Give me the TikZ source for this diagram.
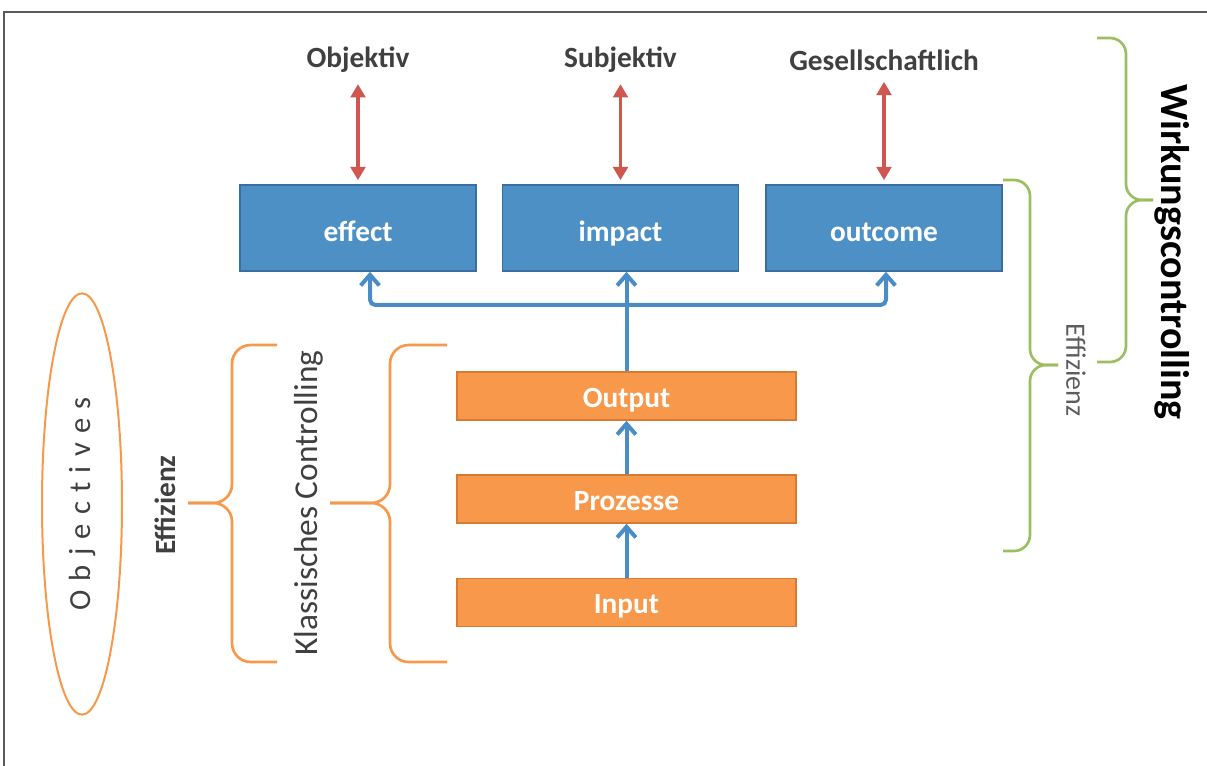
\documentclass[tikz,border=0pt]{standalone}
\usepackage{fontspec}
\setmainfont{Carlito}
\usetikzlibrary{arrows.meta,shapes.geometric}
\definecolor{boxblue}{RGB}{76,144,197}
\definecolor{blueedge}{RGB}{58,110,160}
\definecolor{boxorange}{RGB}{247,152,74}
\definecolor{orangeedge}{RGB}{214,122,52}
\definecolor{linkblue}{RGB}{74,140,198}
\definecolor{pfeilrot}{RGB}{208,86,80}
\definecolor{klammergruen}{RGB}{155,190,95}
\definecolor{textgrau}{RGB}{64,64,64}
\begin{document}
\begin{tikzpicture}[x=0.75pt,y=-0.75pt,
    wirkbox/.style={draw=blueedge, line width=1.2pt, fill=boxblue, text=white,
      font=\fontsize{22}{26}\selectfont\bfseries, minimum width=177pt, minimum height=64.5pt,
      text height=24pt, text depth=4pt},
    stufe/.style={draw=orangeedge, line width=1.2pt, fill=boxorange, text=white,
      font=\fontsize{22}{26}\selectfont\bfseries, minimum width=254pt, minimum height=36pt,
      text height=21pt, text depth=4pt, inner sep=0pt},
    ebene/.style={text=textgrau, font=\fontsize{22}{26}\selectfont\bfseries},
    rotpfeil/.style={{Triangle[length=10pt,width=11pt]}-{Triangle[length=10pt,width=11pt]}, draw=pfeilrot, line width=2.6pt},
    blaupfeil/.style={-{Straight Barb[length=8pt,width=14pt]}, draw=linkblue, line width=3pt},
    blaulinie/.style={draw=linkblue, line width=3pt},
    orangeklammer/.style={draw=boxorange, line width=2pt, rounded corners=14pt},
    gruenklammer/.style={draw=klammergruen, line width=2pt, rounded corners=12pt}]
    \useasboundingbox (0,0) rectangle (1207,766);
    % frame
    \draw[gray!70!black, line width=1.2pt] (1207,12) -- (4,12) -- (4,766);

    % top labels
    \node[ebene] (objektiv) at (358,60) {Objektiv};
    \node[ebene] (subjektiv) at (620.5,60) {Subjektiv};
    \node[ebene] (gesellschaftlich) at (884,60) {Gesellschaftlich};

    % effect boxes
    \node[wirkbox] (effect) at (358,228) {effect};
    \node[wirkbox] (impact) at (620.5,228) {impact};
    \node[wirkbox] (outcome) at (884,228) {outcome};

    % process boxes
    \node[stufe] (output) at (626.5,396) {Output};
    \node[stufe] (prozesse) at (626.5,499) {Prozesse};
    \node[stufe] (input) at (626.5,602.5) {Input};

    % red arrows
    \draw[rotpfeil, shorten <=5pt, shorten >=3pt] (objektiv.south) -- (effect.north);
    \draw[rotpfeil, shorten <=5pt, shorten >=3pt] (subjektiv.south) -- (impact.north);
    \draw[rotpfeil, shorten <=5pt, shorten >=3pt] (gesellschaftlich.south) -- (outcome.north);

    % blue arrows
    \coordinate (verzweigung) at (626.5,305);
    \draw[blaupfeil] (input.north) -- (prozesse.south);
    \draw[blaupfeil] (prozesse.north) -- (output.south);
    \draw[blaulinie] (output.north) -- (verzweigung);
    \draw[blaupfeil, rounded corners=4pt] (verzweigung) -| ([xshift=9pt]effect.south);
    \draw[blaupfeil] (verzweigung) -- (verzweigung |- impact.south);
    \draw[blaupfeil, rounded corners=4pt] (verzweigung) -| ([xshift=1.5pt]outcome.south);

    % left side
    \node[draw=boxorange, line width=1.5pt, ellipse, rotate=90, minimum width=316pt, minimum height=60pt,
      text=textgrau, font=\fontsize{23}{27}\selectfont] (objectives) at (82,504)
      {\spaceskip=0.3em O b j e c t i v e s};
    \draw[orangeklammer] (277,345) -| (232,503) -- (188,503);
    \draw[orangeklammer] (188,503) -- (232,503) |- (277,662);
    \node[ebene, rotate=90] (effizienzlinks) at (165,505) {Effizienz};
    \draw[orangeklammer] (447,345) -| (390,503) -- (330,503);
    \draw[orangeklammer] (330,503) -- (390,503) |- (447,662);
    \node[rotate=90, text=textgrau, font=\fontsize{25}{30}\selectfont] (klassisch) at (309,503) {Klassisches Controlling};

    % right side
    \draw[gruenklammer] (1003,180) -| (1030,365) -- (1058,365);
    \draw[gruenklammer] (1058,365) -- (1030,365) |- (1003,551);
    \node[rotate=-90, text=textgrau!85!white, font=\fontsize{21}{25}\selectfont] (effizienzrechts) at (1076,370) {Effizienz};
    \draw[gruenklammer] (1097,38) -| (1126,200) -- (1153,200);
    \draw[gruenklammer] (1153,200) -- (1126,200) |- (1097,362);
    \node[rotate=-90, font=\fontsize{30}{36}\selectfont\bfseries] (wirkung) at (1172,252) {Wirkungscontrolling};
\end{tikzpicture}
\end{document}
